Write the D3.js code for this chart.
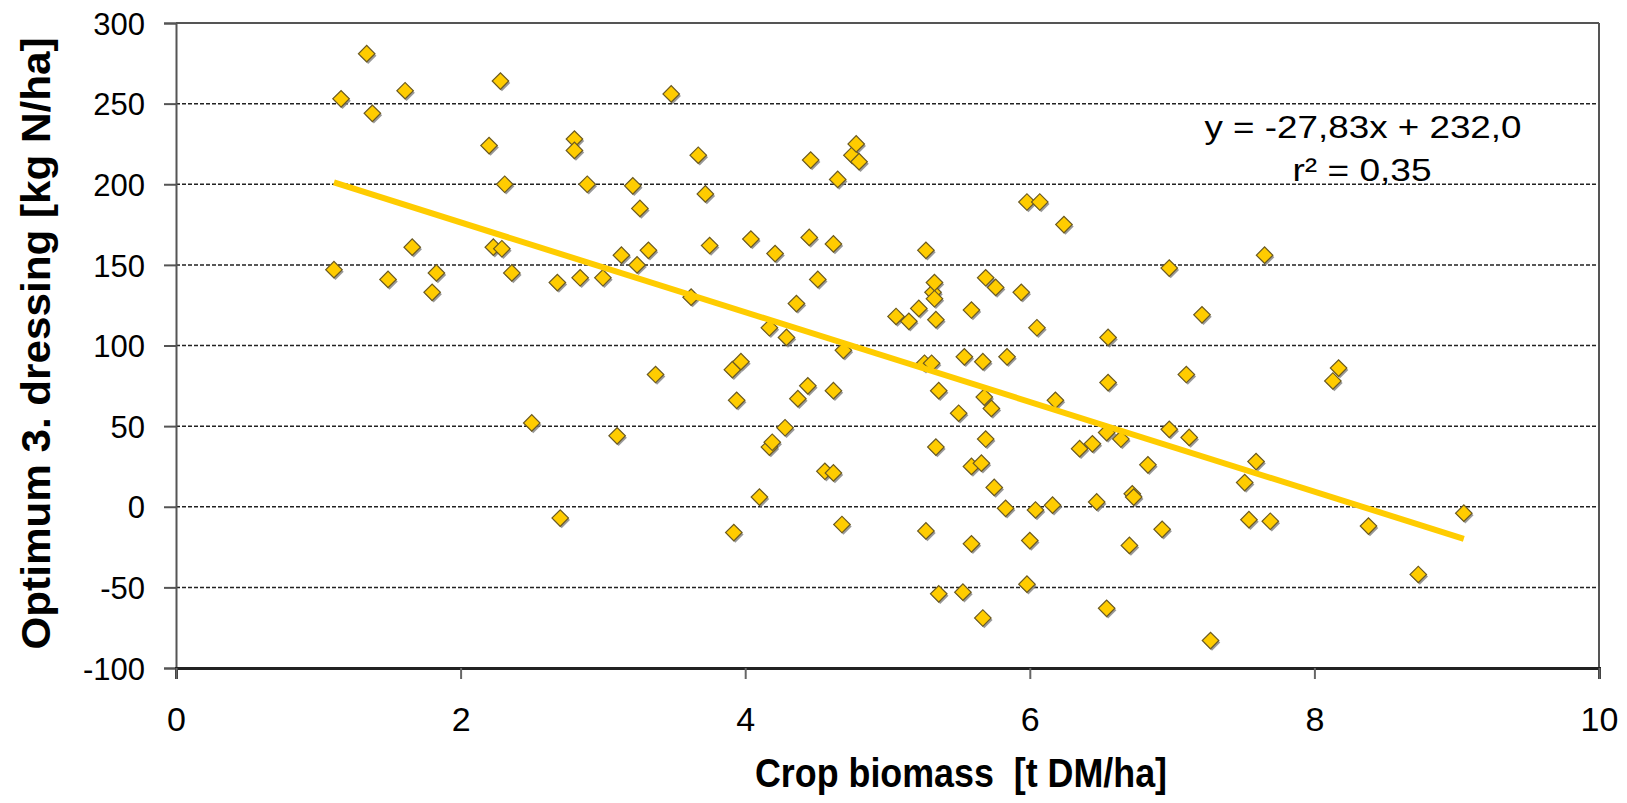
<!DOCTYPE html>
<html>
<head>
<meta charset="utf-8">
<script src="https://cdn.jsdelivr.net/npm/d3@7"></script>
<style>
  html, body { margin: 0; padding: 0; background: #fff; }
  svg text { font-family: "Liberation Sans", Arial, sans-serif; fill: #000; }
</style>
</head>
<body>
<svg id="chart" width="1627" height="803"></svg>
<script>
const biomass = [1.11,1.16,1.34,1.38,1.49,1.61,1.66,1.80,1.83,2.20,2.23,2.28,2.29,2.31,2.36,2.50,2.68,2.70,2.80,2.80,
  2.84,2.89,3.00,3.10,3.13,3.21,3.24,3.26,3.32,3.37,3.48,3.62,3.67,3.72,3.75,3.91,3.92,3.94,3.97,4.04,
  4.10,4.17,4.17,4.19,4.21,4.28,4.29,4.36,4.37,4.44,4.45,4.46,4.51,4.56,4.62,4.62,4.62,4.65,4.68,4.69,
  4.75,4.78,4.80,5.06,5.15,5.22,5.26,5.27,5.27,5.31,5.32,5.33,5.33,5.34,5.34,5.36,5.36,5.50,5.53,5.54,
  5.59,5.59,5.59,5.66,5.67,5.67,5.68,5.69,5.69,5.73,5.75,5.76,5.83,5.84,5.94,5.98,5.98,6.00,6.04,6.05,
  6.07,6.16,6.18,6.24,6.35,6.44,6.47,6.54,6.54,6.55,6.55,6.64,6.70,6.72,6.73,6.83,6.93,6.98,6.98,7.10,
  7.12,7.21,7.27,7.51,7.54,7.59,7.65,7.69,8.13,8.17,8.38,8.73,9.05];
const nOptimum = [147,253,281,244,141,258,161,133,145,224,161,264,160,200,145,52,139,-7,228,221,
  142,200,142,44,156,199,150,185,159,82,256,130,218,194,162,85,-16,66,90,166,
  6,111,37,40,157,49,105,126,67,75,167,215,141,22,21,72,163,203,-11,97,
  218,225,214,118,115,123,89,159,-15,89,133,139,129,116,37,72,-54,58,-53,93,
  122,25,-23,27,90,-69,68,142,42,61,12,136,-1,93,133,189,-48,-21,-2,111,
  189,1,66,175,36,39,3,46,-63,105,77,42,-24,8,6,26,-14,148,48,82,
  43,119,-83,15,-8,28,156,-9,78,86,-12,-42,-4];

// Regression
const slope = -27.83;
const intercept = 232.0;
const equationLines = ["y = -27,83x + 232,0", "r² = 0,35"];

// Achsen
const xTicks = [0, 2, 4, 6, 8, 10];
const yTicks = [-100, -50, 0, 50, 100, 150, 200, 250, 300];
const xTitle = "Crop biomass  [t DM/ha]";
const yTitle = "Optimum 3. dressing [kg N/ha]";

const points = biomass.map((b, i) => ({ x: b, y: nOptimum[i] }));

const plotLeft = 176, plotRight = 1599, plotTop = 23, plotBottom = 668;
const svg = d3.select("#chart");

const x = d3.scaleLinear().domain([0, 10]).range([plotLeft, plotRight]);
const y = d3.scaleLinear().domain([-100, 300]).range([plotBottom, plotTop]);

// Gitterlinien
svg.append("g")
  .selectAll("line")
  .data(yTicks.filter(d => d > -100 && d < 300))
  .enter()
  .append("line")
  .attr("x1", plotLeft).attr("x2", plotRight)
  .attr("y1", d => y(d)).attr("y2", d => y(d))
  .attr("stroke", "#222")
  .attr("stroke-width", 1.5)
  .attr("stroke-dasharray", "4,2");

// Rahmen oben / rechts
svg.append("line").attr("x1", plotLeft).attr("x2", plotRight).attr("y1", plotTop).attr("y2", plotTop)
  .attr("stroke", "#555").attr("stroke-width", 2);
svg.append("line").attr("x1", plotRight).attr("x2", plotRight).attr("y1", plotTop).attr("y2", plotBottom)
  .attr("stroke", "#555").attr("stroke-width", 2);

// y-Achse
const yAxis = svg.append("g")
  .attr("transform", `translate(${plotLeft},0)`)
  .call(d3.axisLeft(y).tickValues(yTicks).tickSize(12).tickFormat(d => String(d)));
yAxis.select(".domain").attr("stroke", "#555").attr("stroke-width", 2);
yAxis.selectAll(".tick line").attr("stroke", "#555").attr("stroke-width", 2);
yAxis.selectAll(".tick text")
  .style("font-size", "31px")
  .attr("x", -31)
  .attr("dy", "0.36em")
  .attr("fill", "#000");

// x-Achse
const xAxis = svg.append("g")
  .attr("transform", `translate(0,${plotBottom})`)
  .call(d3.axisBottom(x).tickValues(xTicks).tickSize(11).tickFormat(d => String(d)));
xAxis.select(".domain").attr("stroke", "#222").attr("stroke-width", 3);
xAxis.selectAll(".tick line").attr("stroke", "#666").attr("stroke-width", 2);
xAxis.selectAll(".tick text")
  .style("font-size", "34px")
  .attr("y", 63)
  .attr("dy", 0)
  .attr("fill", "#000");

// Punkte (Raute mit Schatten)
const diamond = d3.symbol().type(d3.symbolSquare).size(136);
const marks = svg.append("g");
marks.selectAll(".shadow")
  .data(points)
  .enter()
  .append("path")
  .attr("class", "shadow")
  .attr("d", diamond)
  .attr("transform", d => `translate(${x(d.x) + 1.5},${y(d.y) + 2}) rotate(45)`)
  .attr("fill", "#808080")
  .attr("opacity", 0.8);
marks.selectAll(".pt")
  .data(points)
  .enter()
  .append("path")
  .attr("class", "pt")
  .attr("d", diamond)
  .attr("transform", d => `translate(${x(d.x)},${y(d.y)}) rotate(45)`)
  .attr("fill", "#FFCC00")
  .attr("stroke", "#6b5a22")
  .attr("stroke-width", 1.2);

// Trendlinie
const [xMin, xMax] = d3.extent(biomass);
svg.append("line")
  .attr("x1", x(xMin)).attr("y1", y(slope * xMin + intercept))
  .attr("x2", x(xMax)).attr("y2", y(slope * xMax + intercept))
  .attr("stroke", "#FFCC00")
  .attr("stroke-width", 6);

// Gleichung
svg.append("text")
  .attr("x", 1363).attr("y", 138)
  .attr("text-anchor", "middle")
  .attr("textLength", 317).attr("lengthAdjust", "spacingAndGlyphs")
  .style("font-size", "32px")
  .text(equationLines[0]);
svg.append("text")
  .attr("x", 1362).attr("y", 181)
  .attr("text-anchor", "middle")
  .attr("textLength", 139).attr("lengthAdjust", "spacingAndGlyphs")
  .style("font-size", "32px")
  .text(equationLines[1]);

// Achsentitel
svg.append("text")
  .attr("x", 961).attr("y", 787)
  .attr("text-anchor", "middle")
  .attr("textLength", 412).attr("lengthAdjust", "spacingAndGlyphs")
  .style("font-size", "41px")
  .style("font-weight", "bold")
  .style("white-space", "pre")
  .text(xTitle);

svg.append("text")
  .attr("transform", `translate(50,${(plotTop + plotBottom) / 2 - 2}) rotate(-90)`)
  .attr("text-anchor", "middle")
  .attr("textLength", 612).attr("lengthAdjust", "spacingAndGlyphs")
  .style("font-size", "41px")
  .style("font-weight", "bold")
  .text(yTitle);
</script>
</body>
</html>
